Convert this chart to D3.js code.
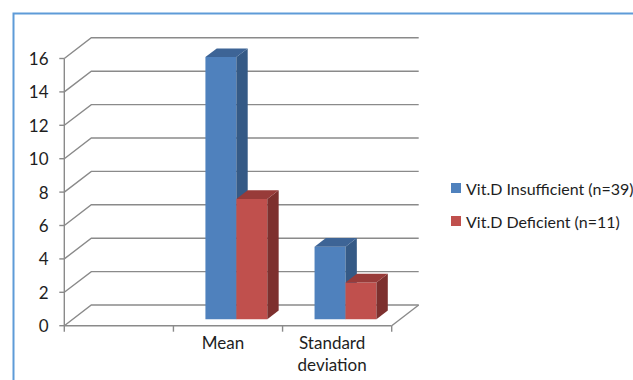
<!DOCTYPE html>
<html>
<head>
<meta charset="utf-8">
<script src="https://cdn.jsdelivr.net/npm/d3@7"></script>
<style>
  html, body { margin: 0; padding: 0; background: #fff; }
  svg { display: block; }
  text { font-family: Lato, "Open Sans", sans-serif; fill: #1e1e1e; }
</style>
</head>
<body>
<svg id="chart" width="633" height="380"></svg>
<script>
// Vitamin D groups: mean and standard deviation
const categories = ["", "Mean", "Standard deviation"];
const seriesNames = ["Vit.D Insufficient (n=39)", "Vit.D Deficient (n=11)"];
const insufficient = [null, 15.7, 4.35];
const deficient = [null, 7.2, 2.2];
const yTicks = [0, 2, 4, 6, 8, 10, 12, 14, 16];

const series = [
  { name: seriesNames[0], values: insufficient, front: "#4F81BD", side: "#355A86", topFill: "#3D6496" },
  { name: seriesNames[1], values: deficient, front: "#C0504D", side: "#7D302E", topFill: "#983B39" }
];

const svg = d3.select("#chart");
const grid = "#8a8a8a";

// Outer frame
svg.append("rect")
  .attr("x", 13.5).attr("y", 13.5)
  .attr("width", 700).attr("height", 500)
  .attr("fill", "none").attr("stroke", "#5E9BD8").attr("stroke-width", 2);

// Plot geometry (front plane) and oblique depth vector
const plotLeft = 64.3, plotRight = 391.7, plotBottom = 325.7, plotTop = 58.5;
const depth = { dx: 27, dy: -20.7 };
const proj = (px, py, f) => [px + depth.dx * f, py + depth.dy * f];

const x = d3.scaleBand().domain(categories).range([plotLeft, plotRight]).paddingInner(0).paddingOuter(0);
const x1 = d3.scaleBand().domain(seriesNames).range([0, x.bandwidth()]).paddingInner(0).paddingOuter(0.763);
const y = d3.scaleLinear().domain([0, 16]).range([plotBottom, plotTop]);

// Back wall gridlines with their side-wall diagonals
const g = svg.append("g");
yTicks.forEach(t => {
  const yy = y(t);
  const b0 = proj(plotLeft, yy, 1), b1 = proj(plotRight, yy, 1);
  g.append("path")
    .attr("d", `M${plotLeft},${yy}L${b0[0]},${b0[1]}L${b1[0]},${b1[1]}`)
    .attr("fill", "none").attr("stroke", grid).attr("stroke-width", 1.4);
});
// Floor right edge
{
  const b1 = proj(plotRight, plotBottom, 1);
  g.append("path")
    .attr("d", `M${plotRight},${plotBottom}L${b1[0]},${b1[1]}`)
    .attr("fill", "none").attr("stroke", grid).attr("stroke-width", 1.4);
}

// Value axis
g.append("line").attr("x1", plotLeft).attr("x2", plotLeft).attr("y1", plotTop).attr("y2", plotBottom)
  .attr("stroke", grid).attr("stroke-width", 1.4);
yTicks.forEach(t => {
  g.append("line").attr("x1", plotLeft - 5).attr("x2", plotLeft).attr("y1", y(t)).attr("y2", y(t))
    .attr("stroke", grid).attr("stroke-width", 1.4);
  svg.append("text").attr("x", 48.5).attr("y", y(t) + 6.5)
    .attr("text-anchor", "end").attr("font-size", 17).text(t);
});

// Category axis
g.append("line").attr("x1", plotLeft).attr("x2", plotRight).attr("y1", plotBottom).attr("y2", plotBottom)
  .attr("stroke", grid).attr("stroke-width", 1.4);
categories.map(c => x(c)).concat([plotRight]).forEach(xx => {
  g.append("line").attr("x1", xx).attr("x2", xx).attr("y1", plotBottom).attr("y2", plotBottom + 6)
    .attr("stroke", grid).attr("stroke-width", 1.4);
});
categories.forEach(c => {
  const words = c.split(" ").filter(w => w);
  const t = svg.append("text").attr("text-anchor", "middle").attr("font-size", 17);
  words.forEach((w, i) => {
    t.append("tspan").attr("x", x(c) + x.bandwidth() / 2 - 5)
      .attr("y", 348.5 + i * 22.5).text(w);
  });
});

// 3D columns
const f0 = 0.31, f1 = 0.73;
const bars = svg.append("g");
categories.forEach((c, ci) => {
  series.forEach(s => {
    const v = s.values[ci];
    if (v == null) return;
    const xl = x(c) + x1(s.name), xr = xl + x1.bandwidth();
    const yt = y(v), yb = y(0);
    const p = (px, py, f) => proj(px, py, f).join(",");
    // front face
    bars.append("path")
      .attr("d", `M${p(xl, yb, f0)}L${p(xr, yb, f0)}L${p(xr, yt, f0)}L${p(xl, yt, f0)}Z`)
      .attr("fill", s.front);
    // right side face
    bars.append("path")
      .attr("d", `M${p(xr, yb, f0)}L${p(xr, yb, f1)}L${p(xr, yt, f1)}L${p(xr, yt, f0)}Z`)
      .attr("fill", s.side);
    // top face
    bars.append("path")
      .attr("d", `M${p(xl, yt, f0)}L${p(xr, yt, f0)}L${p(xr, yt, f1)}L${p(xl, yt, f1)}Z`)
      .attr("fill", s.topFill);
  });
});

// Legend
const legend = svg.append("g");
series.forEach((s, i) => {
  const ly = 183 + i * 33;
  legend.append("rect").attr("x", 451).attr("y", ly).attr("width", 10).attr("height", 10).attr("fill", s.front);
  legend.append("text").attr("x", 466).attr("y", ly + 11.5).attr("font-size", 16).text(s.name);
});
</script>
</body>
</html>
